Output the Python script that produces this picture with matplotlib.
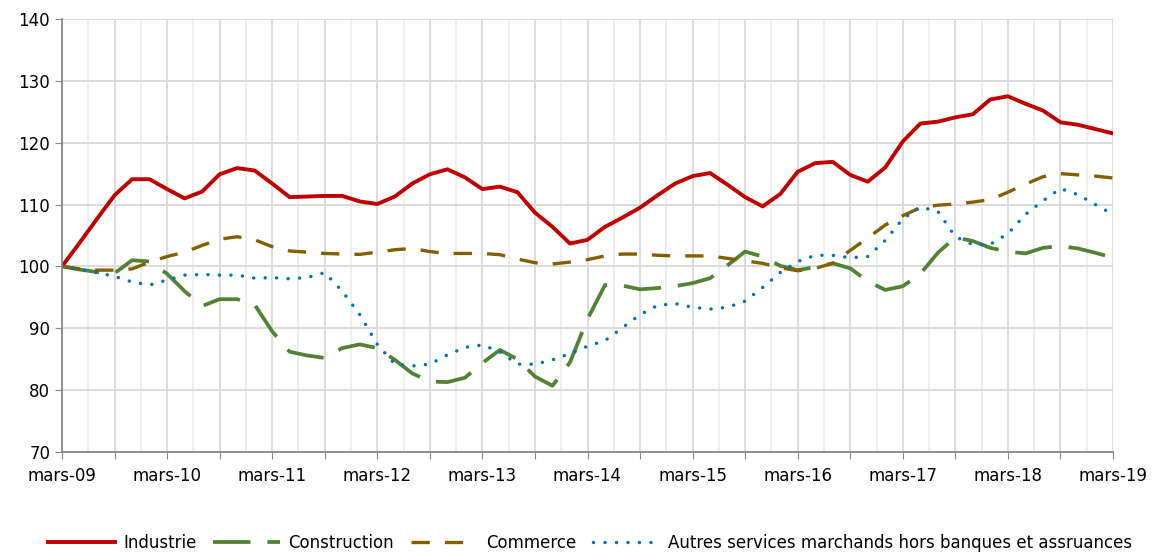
import matplotlib.pyplot as plt
import numpy as np

plt.rcParams['font.family'] = ['DejaVu Sans']

# --- Data: one point every two months, mars-09 .. mars-19 ---
industrie = [100.0, 103.8, 107.7, 111.5, 114.1, 114.1, 112.5, 111.0, 112.1, 114.9,
             115.9, 115.5, 113.4, 111.2, 111.3, 111.4, 111.4, 110.5, 110.1, 111.3,
             113.4, 114.9, 115.7, 114.4, 112.5, 112.9, 112.0, 108.7, 106.4, 103.7,
             104.3, 106.4, 107.9, 109.5, 111.5, 113.4, 114.6, 115.1, 113.2, 111.2,
             109.7, 111.7, 115.3, 116.7, 116.9, 114.8, 113.7, 116.0, 120.2, 123.1,
             123.4, 124.1, 124.6, 127.0, 127.5, 126.3, 125.2, 123.3, 122.9, 122.2,
             121.5]
construction = [100.0, 99.5, 99.1, 98.9, 101.0, 100.8, 98.8, 96.0, 93.6, 94.7,
                94.7, 93.8, 89.5, 86.2, 85.6, 85.2, 86.8, 87.4, 86.8, 84.9,
                82.7, 81.4, 81.3, 82.0, 84.4, 86.5, 85.0, 82.2, 80.7, 84.5,
                91.5, 97.0, 96.9, 96.3, 96.5, 96.8, 97.3, 98.1, 100.2, 102.4,
                101.6, 100.1, 99.4, 99.9, 100.5, 99.7, 97.6, 96.2, 96.8, 98.8,
                102.2, 104.7, 104.1, 103.0, 102.4, 102.1, 103.0, 103.3, 102.9, 102.2,
                101.4]
commerce = [100.0, 99.6, 99.4, 99.4, 99.6, 100.7, 101.6, 102.3, 103.4, 104.4,
            104.8, 104.3, 103.2, 102.5, 102.3, 102.1, 102.0, 101.95, 102.3, 102.7,
            102.9, 102.4, 102.1, 102.1, 102.1, 101.9, 101.2, 100.6, 100.4, 100.7,
            101.1, 101.7, 102.0, 102.0, 101.8, 101.7, 101.7, 101.7, 101.3, 100.9,
            100.5, 99.8, 99.3, 99.7, 100.5, 102.6, 104.6, 106.7, 108.2, 109.5,
            109.9, 110.1, 110.4, 110.8, 112.0, 113.3, 114.5, 115.0, 114.8, 114.6,
            114.3]
autres_services = [100.0, 99.5, 99.0, 98.4, 97.5, 97.0, 97.8, 98.6, 98.7, 98.6,
                   98.6, 98.1, 98.2, 98.0, 98.2, 99.0, 96.0, 92.2, 87.4, 84.2,
                   83.9, 84.2, 85.7, 86.9, 87.3, 86.2, 84.2, 84.2, 84.9, 85.9,
                   87.1, 88.0, 90.1, 92.2, 93.7, 94.0, 93.4, 93.1, 93.4, 94.4,
                   96.6, 99.0, 100.8, 101.8, 101.8, 101.4, 101.6, 104.2, 107.7, 109.6,
                   108.9, 104.8, 103.5, 103.6, 105.3, 108.4, 110.6, 112.6, 111.6, 110.0,
                   108.4]
year_labels = ['mars-09', 'mars-10', 'mars-11', 'mars-12', 'mars-13', 'mars-14',
               'mars-15', 'mars-16', 'mars-17', 'mars-18', 'mars-19']

x = np.arange(len(industrie))

fig = plt.figure(figsize=(11.57, 5.54), dpi=100)
ax = fig.add_axes([62/1157, 1-452/554, (1113-62)/1157, (452-19)/554])

ax.plot(x, industrie, color='#C00000', lw=2.8, label='Industrie', solid_joinstyle='round')
ax.plot(x, construction, color='#548235', lw=2.7, dashes=(10, 4.5), label='Construction')
ax.plot(x, commerce, color='#806000', lw=2.4, dashes=(5.5, 4.5), label='Commerce')
ax.plot(x, autres_services, color='#0070C0', lw=2.5, dashes=(0.01, 3.3),
        dash_capstyle='round', label='Autres services marchands hors banques et assruances')

# axes & grid
ax.set_xlim(0, len(x) - 1)
ax.set_ylim(70, 140)
ax.set_yticks(np.arange(70, 141, 10))
ax.set_xticks(np.arange(0, len(x), 3))
ax.set_xticklabels([year_labels[k // 6] if k % 6 == 0 else '' for k in range(0, len(x), 3)])
ax.set_xticks(np.arange(1.5, len(x), 3), minor=True)
ax.grid(True, which='major', color='#d9d9d9', lw=1.3)
ax.grid(True, which='minor', axis='x', color='#eeeeee', lw=1.3)
ax.set_axisbelow(True)
ax.tick_params(axis='x', which='minor', length=0)
ax.tick_params(axis='both', which='major', length=5, color='#888888', labelsize=12)
ax.tick_params(axis='x', which='major', pad=6)
for s in ['top', 'right']:
    ax.spines[s].set_visible(False)
for s in ['left', 'bottom']:
    ax.spines[s].set_color('#888888')
    ax.spines[s].set_linewidth(1.3)

fig.legend(loc='center', bbox_to_anchor=(0.51, 1-543/554), ncol=4, frameon=False,
           fontsize=12, handlelength=4.0, handletextpad=0.5, columnspacing=1.0)

plt.savefig('out.png', dpi=100)
